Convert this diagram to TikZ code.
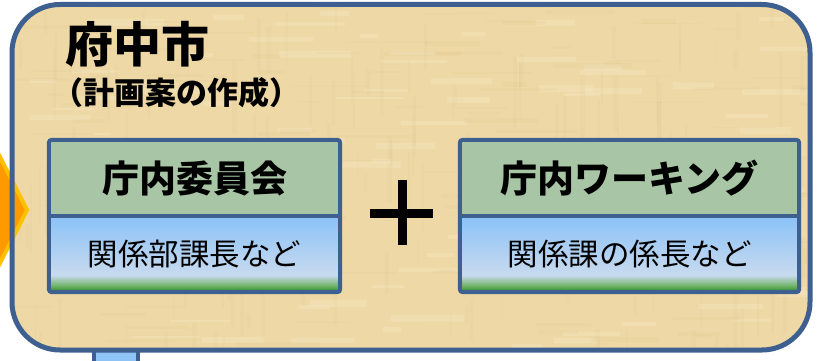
\documentclass[tikz,border=0pt]{standalone}
\usepackage{fontspec}
\newfontfamily\jp{Noto Sans CJK JP}
\definecolor{cFrame}{RGB}{62,96,145}
\definecolor{cParch}{RGB}{238,217,166}
\definecolor{cParchDark}{RGB}{205,175,115}
\definecolor{cOrange}{RGB}{255,153,0}
\definecolor{cOrangeLine}{RGB}{255,192,0}
\definecolor{cCell}{RGB}{168,198,165}
\definecolor{cSky}{RGB}{138,194,248}
\definecolor{cPale}{RGB}{200,218,238}
\definecolor{cGrassLight}{RGB}{110,178,100}
\definecolor{cGrass}{RGB}{38,135,45}
\definecolor{cArrowBlue}{RGB}{141,195,245}
\pgfdeclareverticalshading{skyground}{100bp}{color(0bp)=(cGrass); color(25bp)=(cGrass); color(29bp)=(cGrassLight); color(36bp)=(cPale); color(75bp)=(cSky); color(100bp)=(cSky)}
\tikzset{
  topcell/.style={fill=cCell, minimum height=76pt, inner sep=0pt, font=\jp\bfseries\fontsize{37}{37}\selectfont},
  botcell/.style={shade, shading=skyground, minimum height=76pt, inner sep=0pt, font=\jp\fontsize{30.5}{30.5}\selectfont},
  cellframe/.style={draw=cFrame, line width=4pt, rounded corners=3pt},
}
\begin{document}
\begin{tikzpicture}[x=1pt,y=-1pt]
\useasboundingbox (0,0) rectangle (817,361);
\clip (0,0) rectangle (817,361);
% blue arrow stub below frame
\draw[fill=cArrowBlue, draw=cFrame, line width=4pt] (94,330) rectangle (138,380);
% frame fill
\path[fill=cParch, rounded corners=48pt] (12,4.5) rectangle (810,350);
% texture
\begin{scope}
\clip[rounded corners=48pt] (12,4.5) rectangle (810,350);
\pgfmathsetseed{11}
\foreach \i in {1,...,160}{
  \pgfmathsetmacro{\xx}{12+rnd*800}
  \pgfmathsetmacro{\yy}{5+rnd*345}
  \pgfmathsetmacro{\ll}{15+rnd*70}
  \pgfmathsetmacro{\ww}{1+rnd*4}
  \draw[cParchDark, opacity=0.09, line width=\ww pt] (\xx,\yy) -- ++(\ll,0);
}
\foreach \i in {1,...,160}{
  \pgfmathsetmacro{\xx}{12+rnd*800}
  \pgfmathsetmacro{\yy}{5+rnd*345}
  \pgfmathsetmacro{\ll}{15+rnd*60}
  \pgfmathsetmacro{\ww}{1+rnd*4}
  \draw[cParchDark, opacity=0.08, line width=\ww pt] (\xx,\yy) -- ++(0,\ll);
}
\foreach \i in {1,...,100}{
  \pgfmathsetmacro{\xx}{12+rnd*800}
  \pgfmathsetmacro{\yy}{5+rnd*345}
  \pgfmathsetmacro{\ll}{15+rnd*60}
  \pgfmathsetmacro{\ww}{2+rnd*5}
  \draw[white, opacity=0.12, line width=\ww pt] (\xx,\yy) -- ++(\ll,0);
}
\end{scope}
% orange arrow from the left
\draw[fill=cOrange, draw=cOrangeLine, line width=4pt, line join=miter] (-80,153) -- (-2,153) -- (27,210) -- (-2,267) -- (-80,267) -- cycle;
% frame border
\draw[draw=cFrame, line width=5pt, rounded corners=48pt] (12,4.5) rectangle (810,350);
% title
\node[anchor=west, inner sep=0pt, font=\jp\bfseries\fontsize{48}{48}\selectfont] (title) at (65,44) {府中市};
\node[anchor=west, inner sep=0pt, font=\jp\bfseries\fontsize{31}{31}\selectfont] (subtitle) at (52,93) {（計画案の作成）};
% left box
\node[topcell, minimum width=291pt] (ltop) at (194.5,178) {庁内委員会};
\node[botcell, minimum width=291pt] (lbot) at (194.5,254) {関係部課長など};
\draw[cellframe] (ltop.north west) rectangle (lbot.south east);
\draw[draw=cFrame, line width=4pt] (ltop.south west) -- (ltop.south east);
% right box
\node[topcell, minimum width=339pt] (rtop) at (629.5,178) {庁内ワーキング};
\node[botcell, minimum width=339pt] (rbot) at (629.5,254) {関係課の係長など};
\draw[cellframe] (rtop.north west) rectangle (rbot.south east);
\draw[draw=cFrame, line width=4pt] (rtop.south west) -- (rtop.south east);
% plus sign
\coordinate (plusc) at (402,213);
\draw[line width=9pt] ([xshift=-32pt]plusc) -- ([xshift=31pt]plusc);
\draw[line width=9pt] ([yshift=-32pt]plusc) -- ([yshift=33pt]plusc);
\end{tikzpicture}
\end{document}
